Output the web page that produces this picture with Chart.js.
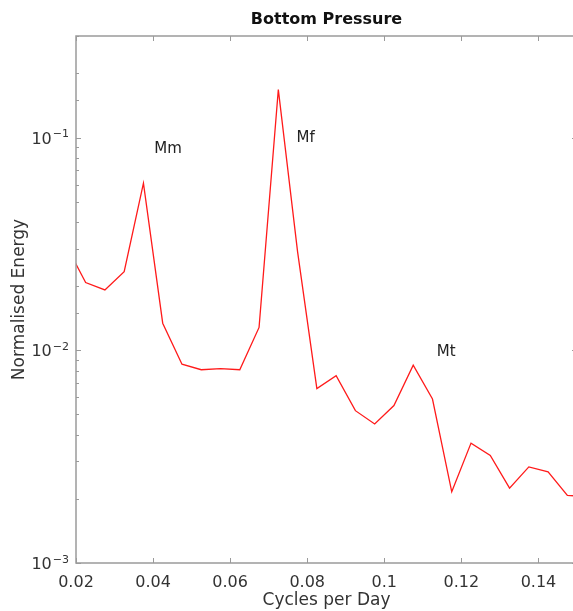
<!DOCTYPE html>
<html>
<head>
<meta charset="utf-8">
<script src="https://cdn.jsdelivr.net/npm/chart.js@4.4.1/dist/chart.umd.min.js"></script>
<style>
  html, body { margin: 0; padding: 0; background: #fff; overflow: hidden; }
  #wrap { width: 580px; height: 611px; }
</style>
</head>
<body>
<div id="wrap"><canvas id="spec" width="580" height="611"></canvas></div>
<script>
// spectrum bins (cycles per day) and normalised energy in each bin
const freqs = [
  0.0175, 0.0225, 0.0275, 0.0325, 0.0375, 0.0425, 0.0475, 0.0525,
  0.0575, 0.0625, 0.0675, 0.0725, 0.0775, 0.0825, 0.0875, 0.0925,
  0.0975, 0.1025, 0.1075, 0.1125, 0.1175, 0.1225, 0.1275, 0.1325,
  0.1375, 0.1425, 0.1475, 0.1525,
];
const energy = [
  0.031, 0.0208, 0.0192, 0.0234, 0.061, 0.0134, 0.0086, 0.0081,
  0.0082, 0.0081, 0.0128, 0.168, 0.029, 0.0066, 0.0076, 0.0052,
  0.0045, 0.0055, 0.0085, 0.0059, 0.00216, 0.00366, 0.0032, 0.00225,
  0.00283, 0.00268, 0.00208, 0.00205,
];

// tidal constituent labels
const tideNames = ["Mm", "Mf", "Mt"];
const tideX = [0.0403, 0.0772, 0.1136];
const tideY = [0.088, 0.099, 0.0098];

// axis ticks
const xTickValues = [0.02, 0.04, 0.06, 0.08, 0.1, 0.12, 0.14];
const xTickLabels = ["0.02", "0.04", "0.06", "0.08", "0.1", "0.12", "0.14"];
const yTickValues = [0.001, 0.01, 0.1];
const yTickExps = ["\u22123", "\u22122", "\u22121"];

const FONT = "'DejaVu Sans', 'Lucida Grande', sans-serif";
const AXIS = "#9a9a9a";

// --------------------------------------------------
// box round the axes, ticks pointing inwards, 10^n labels, title and tide labels
const frame = {
  id: "frame",
  afterDatasetsDraw(chart) {
    const { ctx, chartArea: a, scales } = chart;
    const xs = scales.x;
    const ys = scales.y;
    ctx.save();
    ctx.strokeStyle = AXIS;
    ctx.lineWidth = 1.5;
    ctx.strokeRect(a.left, a.top, a.right - a.left, a.bottom - a.top);

    ctx.lineWidth = 1;
    ctx.beginPath();
    xs.ticks.forEach((t) => {
      const px = Math.round(xs.getPixelForValue(t.value)) + 0.5;
      ctx.moveTo(px, a.bottom);
      ctx.lineTo(px, a.bottom - 5);
      ctx.moveTo(px, a.top);
      ctx.lineTo(px, a.top + 5);
    });
    ys.ticks.forEach((t) => {
      const e = Math.log10(t.value);
      const len = Math.abs(e - Math.round(e)) < 1e-6 ? 5 : 3;
      const py = Math.round(ys.getPixelForValue(t.value)) + 0.5;
      ctx.moveTo(a.left, py);
      ctx.lineTo(a.left + len, py);
      ctx.moveTo(a.right, py);
      ctx.lineTo(a.right - len, py);
    });
    ctx.stroke();

    // decade labels with raised exponent
    ctx.fillStyle = "#333";
    ctx.textAlign = "right";
    ctx.textBaseline = "middle";
    yTickValues.forEach((v, i) => {
      const py = ys.getPixelForValue(v);
      const xr = a.left - 7;
      ctx.font = "11px " + FONT;
      const w = ctx.measureText(yTickExps[i]).width;
      ctx.fillText(yTickExps[i], xr, py - 3);
      ctx.font = "16px " + FONT;
      ctx.fillText("10", xr - w - 1, py + 2);
    });

    ctx.fillStyle = "#222";
    ctx.font = "15px " + FONT;
    ctx.textAlign = "left";
    tideNames.forEach((name, i) => {
      ctx.fillText(name, xs.getPixelForValue(tideX[i]), ys.getPixelForValue(tideY[i]));
    });

    ctx.font = "bold 16px " + FONT;
    ctx.textAlign = "center";
    ctx.fillStyle = "#111";
    ctx.fillText("Bottom Pressure", (a.left + a.right) / 2, 20);
    ctx.restore();
  },
};

// --------------------------------------------------
const ctx = document.getElementById("spec").getContext("2d");
new Chart(ctx, {
  type: "line",
  data: {
    datasets: [
      {
        data: freqs.map((f, i) => ({ x: f, y: energy[i] })),
        borderColor: "#ff1a1a",
        borderWidth: 1.3,
        pointRadius: 0,
        tension: 0,
        fill: false,
      },
    ],
  },
  options: {
    responsive: false,
    animation: false,
    layout: { padding: { top: 36, right: 3, left: 0, bottom: 0 } },
    plugins: {
      legend: { display: false },
      tooltip: { enabled: false },
    },
    scales: {
      x: {
        type: "linear",
        min: 0.02,
        max: 0.15,
        grid: { display: false },
        border: { display: false },
        afterBuildTicks: (s) => {
          s.ticks = xTickValues.map((v) => ({ value: v }));
        },
        afterFit: (s) => {
          s.height = 48;
        },
        ticks: {
          padding: 2,
          color: "#333",
          font: { family: FONT, size: 16 },
          maxRotation: 0,
          autoSkip: false,
          callback: (v) => {
            const i = xTickValues.findIndex((t) => Math.abs(t - v) < 1e-9);
            return i < 0 ? "" : xTickLabels[i];
          },
        },
        title: {
          display: true,
          text: "Cycles per Day",
          color: "#333",
          font: { family: FONT, size: 17 },
          padding: { top: 0, bottom: 0 },
        },
      },
      y: {
        type: "logarithmic",
        min: 0.001,
        max: 0.3,
        grid: { display: false },
        border: { display: false },
        afterFit: (s) => {
          s.width = 76;
        },
        ticks: { display: false, autoSkip: false },
        title: {
          display: true,
          text: "Normalised Energy",
          color: "#333",
          font: { family: FONT, size: 17 },
          padding: { top: 9, bottom: 0 },
        },
      },
    },
  },
  plugins: [frame],
});
</script>
</body>
</html>
